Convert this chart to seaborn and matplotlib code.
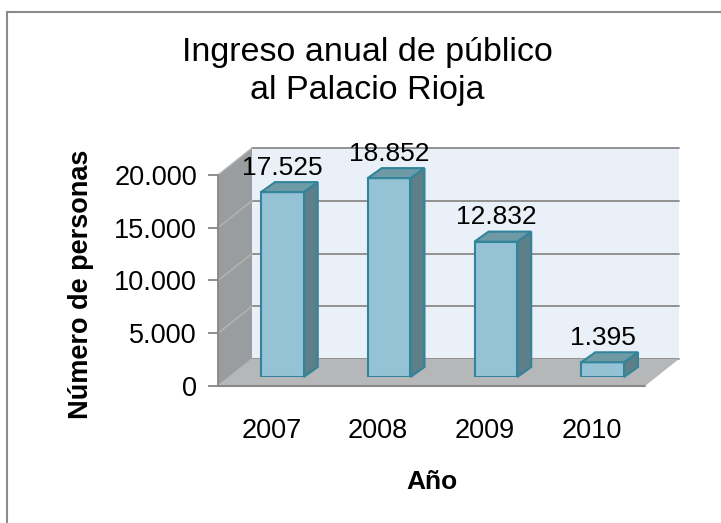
import matplotlib
matplotlib.use("Agg")
import matplotlib.pyplot as plt
import matplotlib.transforms as mtransforms
from matplotlib.patches import Polygon, Rectangle
from matplotlib.lines import Line2D
import seaborn as sns
import pandas as pd

# ---- data ----
years = ["2007", "2008", "2009", "2010"]
visitors = [17525, 18852, 12832, 1395]
y_ticks = [0, 5000, 10000, 15000, 20000]
y_tick_labels = ["0", "5.000", "10.000", "15.000", "20.000"]
bar_labels = ["17.525", "18.852", "12.832", "1.395"]
chart_title = "Ingreso anual de público\nal Palacio Rioja"
x_title = "Año"
y_title = "Número de personas"

sns.set_theme(style="white")
plt.rcParams["font.family"] = ["Liberation Sans", "DejaVu Sans"]

W, H = 721, 523
DPI = 100
fig = plt.figure(figsize=(W / DPI, H / DPI), dpi=DPI)
fig.patch.set_facecolor("white")

TXT = "#000000"


def box(left, top, width, height):
    return [left / W, (H - top - height) / H, width / W, height / H]


AX_L, AX_W, AX_H = 229, 427, 211
BAR_BASE = 377
FRONT = (-11, -9)   # display px offset of front plane from bar plane
BACK = (23, 18)     # display px offset of back plane from bar plane
DX, DY = 14, 10     # bar depth

ax = fig.add_axes(box(AX_L, BAR_BASE - AX_H, AX_W, AX_H))
df = pd.DataFrame({"year": years, "visitors": visitors})
sns.barplot(data=df, x="year", y="visitors", ax=ax, width=0.4,
            color="#95c3d5", edgecolor="#31849b", linewidth=1.5,
            saturation=1, zorder=3)
ax.set_xlim(-0.5, 3.5)
ax.set_ylim(0, 20000)
ax.axis("off")
bars = list(ax.patches)

ident = mtransforms.IdentityTransform()


def P(x, y, off):
    px, py = ax.transData.transform((x, y))
    return (px + off[0], py + off[1])


def poly(pts, fc, z, ec="none", lw=0):
    p = Polygon(pts, closed=True, facecolor=fc, edgecolor=ec, linewidth=lw,
                transform=ident, zorder=z, clip_on=False)
    ax.add_artist(p)


def line(p0, p1, color, lw, z):
    l = Line2D([p0[0], p1[0]], [p0[1], p1[1]], color=color, linewidth=lw,
               transform=ident, zorder=z, clip_on=False)
    ax.add_artist(l)


xmin, xmax = -0.5, 3.5
ymax = 20000
# back wall
poly([P(xmin, 0, BACK), P(xmax, 0, BACK), P(xmax, ymax, BACK), P(xmin, ymax, BACK)],
     "#e9f0f7", 0.5)
for v in y_ticks:
    line(P(xmin, v, BACK), P(xmax, v, BACK), "#8a8a8a", 1.3, 0.55)
# left wall
poly([P(xmin, 0, FRONT), P(xmin, ymax, FRONT), P(xmin, ymax, BACK), P(xmin, 0, BACK)],
     "#9a9da0", 0.6)
for v in y_ticks:
    line(P(xmin, v, FRONT), P(xmin, v, BACK), "#b4b4b4", 1.0, 0.65)
# floor
poly([P(xmin, 0, FRONT), P(xmax, 0, FRONT), P(xmax, 0, BACK), P(xmin, 0, BACK)],
     "#b5b7b9", 0.7)
line(P(xmin, 0, FRONT), P(xmax, 0, FRONT), "#8a8a8a", 1.5, 0.75)

# 3D faces of the bars
for bar in bars:
    (x0, y0), (x1, y1) = ax.transData.transform(
        [(bar.get_x(), bar.get_y()),
         (bar.get_x() + bar.get_width(), bar.get_y() + bar.get_height())])
    poly([(x1, y0), (x1, y1), (x1 + DX, y1 + DY), (x1 + DX, y0 + DY)],
         "#5c7f88", 2.9, ec="#31849b", lw=1.5)
    poly([(x0, y1), (x1, y1), (x1 + DX, y1 + DY), (x0 + DX, y1 + DY)],
         "#6e9aa5", 3.1, ec="#31849b", lw=1.5)

for t in ax.bar_label(ax.containers[0], labels=bar_labels, padding=9,
                      fontsize=19, color=TXT):
    t.set_zorder(5)

# front plane axes carrying ticks and titles
fax = fig.add_axes(box(AX_L + FRONT[0], BAR_BASE - FRONT[1] - AX_H, AX_W, AX_H))
fax.set_xlim(xmin, xmax)
fax.set_ylim(0, ymax)
fax.patch.set_alpha(0)
for s in ["top", "right", "bottom"]:
    fax.spines[s].set_visible(False)
fax.spines["left"].set_color("#868686")
fax.spines["left"].set_linewidth(1.3)
fax.set_xticks(range(len(years)))
fax.set_xticklabels(years)
fax.set_yticks(y_ticks)
fax.set_yticklabels(y_tick_labels)
fax.tick_params(axis="x", length=0, pad=23, labelsize=19.5, labelcolor=TXT)
fax.tick_params(axis="y", length=7.2, width=1.3, color="#868686", direction="out",
                pad=8, labelsize=19.5, labelcolor=TXT, left=True)
fax.grid(False)
fax.set_xlabel(x_title, fontsize=19, fontweight="bold", color=TXT)
fax.xaxis.set_label_coords(0.5, -0.40)
fax.set_ylabel(y_title, fontsize=19.5, fontweight="bold", color=TXT)
fax.yaxis.set_label_coords(-0.29, 0.48)

fig.text(367 / W, 1 - 71.5 / H, chart_title, ha="center", va="center",
         fontsize=24.5, linespacing=1.3, color=TXT)

fig.patches.append(Rectangle((6.5 / W, -0.1), 1.2, (H - 12.5) / H + 0.1,
                             transform=fig.transFigure, fill=False,
                             edgecolor="#8c8c8c", linewidth=1.5))

fig.savefig("out.png", dpi=DPI, facecolor="white")
